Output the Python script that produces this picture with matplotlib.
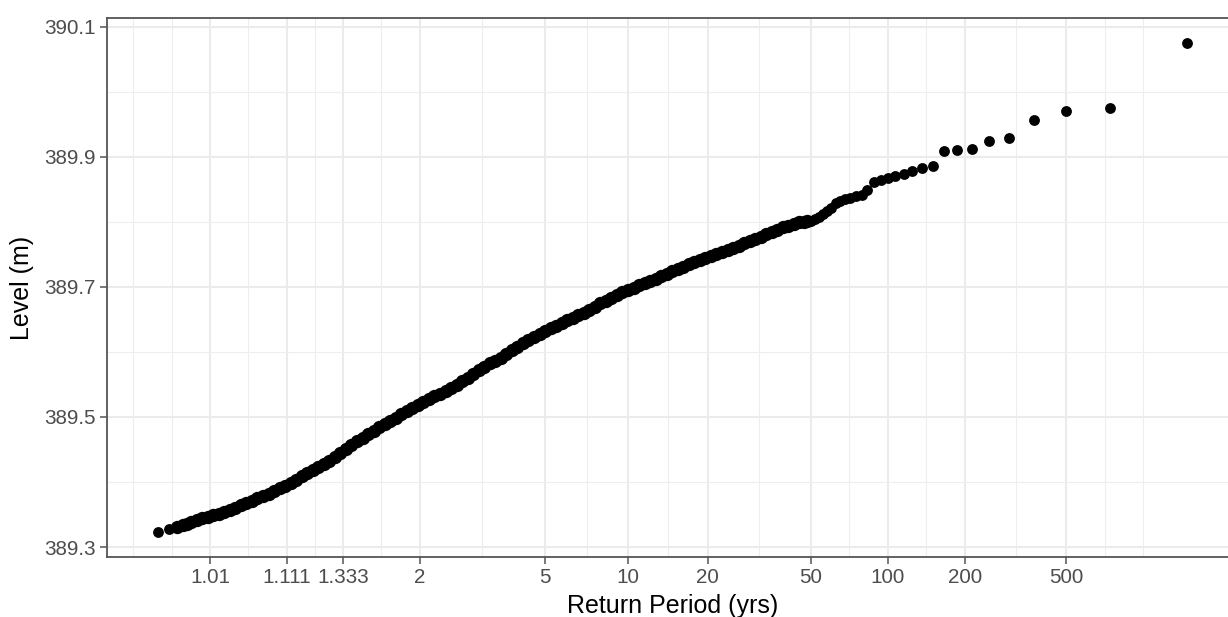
import numpy as np
import matplotlib
matplotlib.use('Agg')
import matplotlib.pyplot as plt

plt.rcParams['font.family'] = ['Liberation Sans', 'DejaVu Sans']

# bulk of the annual maxima: Gumbel reduced variate of the plotting position and level (m)
u_bulk = [-1.997, -1.897, -1.830, -1.771, -1.735,
          -1.70, -1.65, -1.60, -1.55, -1.50, -1.45, -1.40, -1.35, -1.30, -1.25,
          -1.20, -1.15, -1.10, -1.05, -1.00, -0.95, -0.90, -0.85, -0.80, -0.75,
          -0.70, -0.65, -0.60, -0.55, -0.50, -0.45, -0.40, -0.35, -0.30, -0.25,
          -0.20, -0.15, -0.10, -0.05, 0.00, 0.05, 0.10, 0.15, 0.20, 0.25,
          0.30, 0.35, 0.40, 0.45, 0.50, 0.55, 0.60, 0.65, 0.70, 0.75,
          0.80, 0.85, 0.90, 0.95, 1.00, 1.05, 1.10, 1.15, 1.20, 1.25,
          1.30, 1.35, 1.40, 1.45, 1.50, 1.55, 1.60, 1.65, 1.70, 1.75,
          1.80, 1.85, 1.90, 1.95, 2.00, 2.05, 2.10, 2.15, 2.20, 2.25,
          2.30, 2.35, 2.40, 2.45, 2.50, 2.55, 2.60, 2.65, 2.70, 2.75,
          2.80, 2.85, 2.90, 2.95, 3.00, 3.05, 3.10, 3.15, 3.20, 3.25,
          3.30, 3.35, 3.40, 3.45, 3.50, 3.55, 3.60, 3.65, 3.70, 3.75,
          3.80, 3.84, 3.872]
level_bulk = [389.3226, 389.3272, 389.3303, 389.3338, 389.3360,
              389.3383, 389.3415, 389.3440, 389.3466, 389.3491, 389.3513, 389.3534, 389.3571, 389.3607, 389.3641,
              389.3675, 389.3709, 389.3747, 389.3785, 389.3823, 389.3862, 389.3900, 389.3942, 389.3990, 389.4038,
              389.4085, 389.4131, 389.4177, 389.4224, 389.4277, 389.4330, 389.4390, 389.4451, 389.4512, 389.4573,
              389.4628, 389.4681, 389.4733, 389.4785, 389.4838, 389.4890, 389.4941, 389.4990, 389.5040, 389.5089,
              389.5139, 389.5188, 389.5233, 389.5276, 389.5318, 389.5360, 389.5403, 389.5445, 389.5495, 389.5550,
              389.5605, 389.5660, 389.5715, 389.5770, 389.5824, 389.5867, 389.5912, 389.5969, 389.6026, 389.6083,
              389.6141, 389.6186, 389.6230, 389.6275, 389.6319, 389.6364, 389.6406, 389.6445, 389.6483, 389.6521,
              389.6560, 389.6598, 389.6637, 389.6691, 389.6746, 389.6789, 389.6831, 389.6874, 389.6916, 389.6952,
              389.6987, 389.7022, 389.7057, 389.7086, 389.7121, 389.7162, 389.7204, 389.7243, 389.7277, 389.7312,
              389.7346, 389.7380, 389.7411, 389.7442, 389.7473, 389.7505, 389.7536, 389.7568, 389.7602, 389.7636,
              389.7670, 389.7704, 389.7738, 389.7772, 389.7809, 389.7845, 389.7881, 389.7918, 389.7942, 389.7967,
              389.7995, 389.8005, 389.8010]

# largest 30 values (rank 30 ... rank 1)
u_top = [3.904, 3.938, 3.973, 4.010, 4.047, 4.087, 4.127, 4.170, 4.214, 4.261,
         4.310, 4.361, 4.415, 4.472, 4.533, 4.597, 4.666, 4.741, 4.821, 4.908,
         5.003, 5.108, 5.226, 5.360, 5.514, 5.696, 5.919, 6.207, 6.612, 7.306]
level_top = [389.802, 389.804, 389.808, 389.812, 389.817, 389.822, 389.829, 389.832, 389.835, 389.837,
             389.839, 389.841, 389.849, 389.861, 389.864, 389.868, 389.870, 389.873, 389.878, 389.882,
             389.886, 389.909, 389.911, 389.912, 389.924, 389.929, 389.957, 389.971, 389.975, 390.075]

period_ticks = [1.01, 1.111, 1.333, 2, 5, 10, 20, 50, 100, 200, 500]
period_labels = ['1.01', '1.111', '1.333', '2', '5', '10', '20', '50', '100', '200', '500']
level_ticks = [389.3, 389.5, 389.7, 389.9, 390.1]


def gumbel(T):
    T = np.asarray(T, dtype=float)
    return -np.log(-np.log(1 - 1 / T))


def minor_breaks(b, lo, hi):
    # ggplot-like: midpoints between breaks, extended one step at both ends
    b = list(b)
    major = set(np.round(b, 6))
    bd = b[1] - b[0]
    if lo < b[0]:
        b = [b[0] - bd] + b
    if hi > b[-1]:
        b = b + [b[-1] + bd]
    out = []
    for a, c in zip(b[:-1], b[1:]):
        out += [a, (a + c) / 2]
    out.append(b[-1])
    return [m for m in out if lo <= m <= hi and round(m, 6) not in major]


u_all = np.array(u_bulk + u_top)
lev_all = np.array(level_bulk + level_top)

xr = u_all.max() - u_all.min()
xlim = (u_all.min() - 0.05 * xr, u_all.max() + 0.05 * xr)
yr = lev_all.max() - lev_all.min()
ylim = (lev_all.min() - 0.05 * yr, lev_all.max() + 0.05 * yr)

fig = plt.figure(figsize=(12.28, 6.17), dpi=100)
ax = fig.add_axes([0.08697, 0.09757, 0.92174, 0.87245])

xt = gumbel(period_ticks)
ax.set_xticks(xt)
ax.set_xticklabels(period_labels)
ax.set_xticks(minor_breaks(xt, *xlim), minor=True)
ax.set_yticks(level_ticks)
ax.set_yticklabels(['389.3', '389.5', '389.7', '389.9', '390.1'])
ax.set_yticks(minor_breaks(level_ticks, *ylim), minor=True)

ax.grid(which='major', color='#EBEBEB', lw=1.5)
ax.grid(which='minor', color='#EEEEEE', lw=0.8)
ax.set_axisbelow(True)

# dense run of points drawn a bit larger, as overlapping points thicken the band
ax.plot(u_bulk[:2], level_bulk[:2], 'o', color='black', ms=7.8, mew=0)
ax.plot(u_bulk[2:], level_bulk[2:], 'o', color='black', ms=9.6, mew=0)
ax.plot(u_top, level_top, 'o', color='black', ms=7.8, mew=0)

ax.set_xlim(xlim)
ax.set_ylim(ylim)

for s in ax.spines.values():
    s.set_color('#555555')
    s.set_linewidth(1.3)

ax.tick_params(which='major', direction='out', length=5, width=1.1, color='#555555',
               labelcolor='#4D4D4D', labelsize=14.9, pad=3)
ax.tick_params(which='minor', length=0)

ax.set_xlabel('Return Period (yrs)', fontsize=18, color='black', va='center')
ax.xaxis.set_label_coords(0.5, -0.0914)
ax.set_ylabel('Level (m)', fontsize=18, color='black', va='center')
ax.yaxis.set_label_coords(-0.0749, 0.5)

fig.savefig('out.png', dpi=100)
